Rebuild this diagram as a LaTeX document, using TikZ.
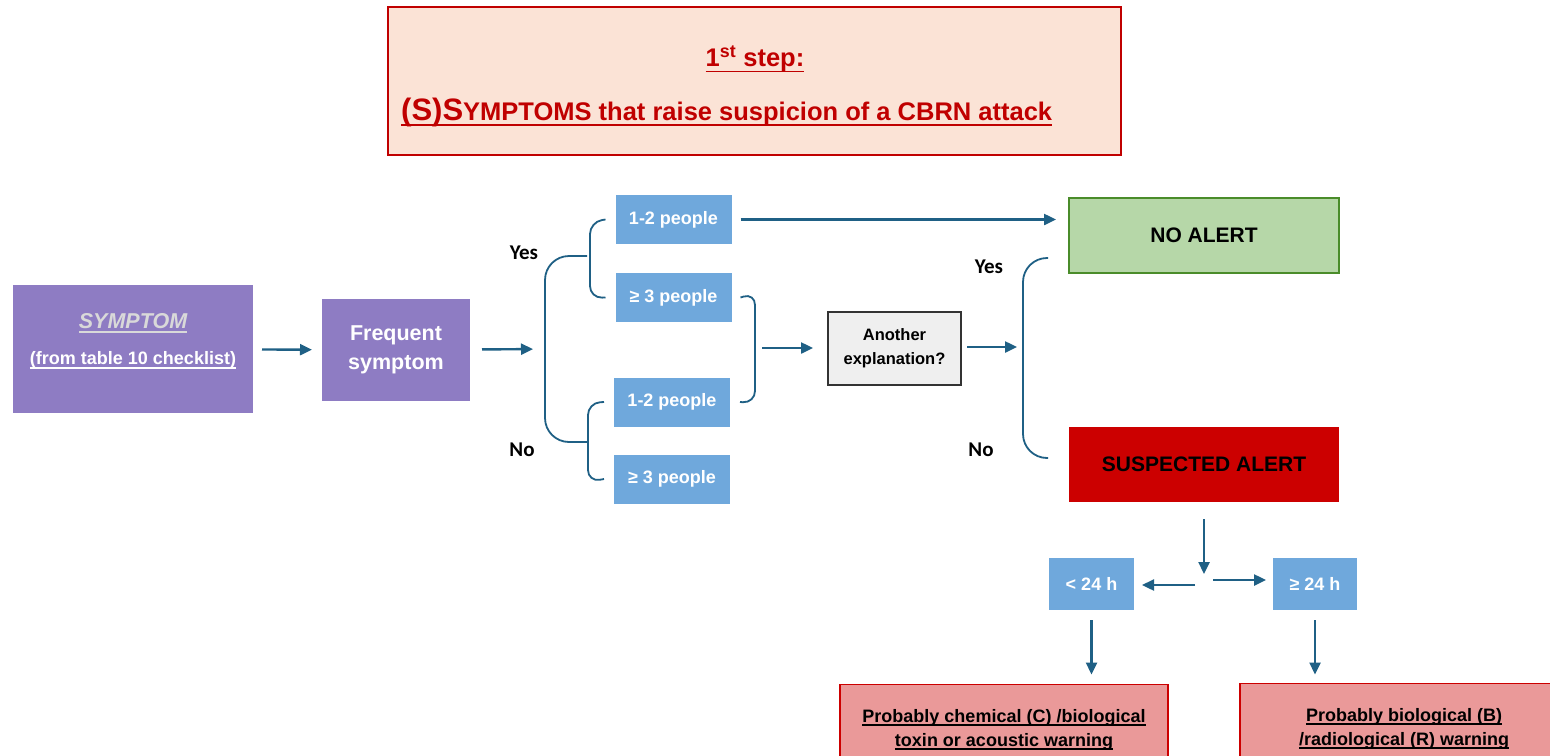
\documentclass[tikz,border=0pt]{standalone}
\usepackage{fontspec}
\setmainfont{Liberation Sans}
\newfontfamily\answerfont{Carlito}
\usepackage{xcolor}
\usepackage{tikz}
\usetikzlibrary{positioning, arrows.meta}

\newsavebox{\ulinebox}
\newcommand{\ulbar}[2][4pt]{\leavevmode\sbox{\ulinebox}{#2}%
  \rlap{\rule[-#1]{\wd\ulinebox}{1.6pt}}\usebox{\ulinebox}}

\definecolor{stepfill}{HTML}{FBE3D6}
\definecolor{stepred}{HTML}{C00000}
\definecolor{symviolet}{HTML}{8E7CC3}
\definecolor{symgray}{HTML}{D9D9D9}
\definecolor{groupblue}{HTML}{6FA8DC}
\definecolor{flowteal}{HTML}{1F6085}
\definecolor{okfill}{HTML}{B6D7A8}
\definecolor{okline}{HTML}{4A8C2A}
\definecolor{alertred}{HTML}{CC0000}
\definecolor{warnfill}{HTML}{EA9999}
\definecolor{askfill}{HTML}{EFEFEF}

\begin{document}
\begin{tikzpicture}[x=1pt, y=1pt,
    flow/.style={-{Triangle[length=12pt, width=11pt]}, line width=2.4pt, flowteal},
    brace/.style={line width=1.8pt, flowteal, rounded corners=#1},
    brace/.default=12pt,
    violetbox/.style={fill=symviolet, inner sep=0pt, outer sep=0pt, align=center,
      text=white, font={\fontsize{21.5}{29}\selectfont\bfseries}},
    groupbox/.style={fill=groupblue, inner sep=0pt, outer sep=0pt, align=center,
      text=white, font={\fontsize{18}{22}\selectfont\bfseries}},
    alertbox/.style={inner sep=0pt, outer sep=0pt, minimum width=270, minimum height=75,
      line width=1.5pt, font={\fontsize{21}{25}\selectfont\bfseries}},
    warnbox/.style={fill=warnfill, draw=alertred, line width=1.3pt, inner sep=0pt,
      outer sep=0pt, minimum width=328, minimum height=90, align=center,
      font={\fontsize{18}{24}\selectfont\bfseries}},
    answer/.style={font={\fontsize{21}{25}\selectfont\answerfont\bfseries}}]

  \useasboundingbox (0,0) rectangle (1550,-755);
  \clip (0,0) rectangle (1550,-755);
  \fill[white] (0,0) rectangle (1550,-755);

  % ── 1st step banner (top) ──
  \node[fill=stepfill, draw=stepred, line width=1.3pt, inner sep=0pt,
    minimum width=733, minimum height=148] (step) at (754.5,-81) {};
  \node[text=stepred, font={\fontsize{25.5}{30}\selectfont\bfseries}]
    (stepno) at (755,-59) {\ulbar[6pt]{1\textsuperscript{st} step:}};
  \node[text=stepred, font={\fontsize{25.5}{30}\selectfont\bfseries}, anchor=west, inner sep=0pt]
    (stepname) at (401,-112)
    {\ulbar[6pt]{{\fontsize{31}{31}\selectfont(S)S}YMPTOMS that raise suspicion of a CBRN attack}};

  % ── symptom input ──
  \node[violetbox, minimum width=240, minimum height=128] (sym) at (133,-349) {};
  \node[text=symgray, font={\fontsize{21.5}{25}\selectfont\bfseries\itshape}]
    (symname) at (133,-323) {\ulbar[5pt]{SYMPTOM}};
  \node[text=white, font={\fontsize{18}{22}\selectfont\bfseries}]
    (symsrc) at (133,-360) {\ulbar[5pt]{(from table 10 checklist)}};
  \node[violetbox, minimum width=148, minimum height=102] (freq) at (396,-350)
    {Frequent\\symptom};

  % ── number of people ──
  \foreach \n/\x/\y/\t in {
    pa/673.5/-219.5/{1-2 people},
    pb/673.5/-297.5/{≥ 3 people},
    pc/672/-402/{1-2 people},
    pd/672/-479/{≥ 3 people}} {
    \node[groupbox, minimum width=116, minimum height=49] (\n) at (\x,\y) {\t};
  }

  % ── braces round the groups ──
  \coordinate (ynmid) at (545,-349);
  \draw[brace=24pt] (587,-256) -- (545,-256) -- (545,-442) -- (587,-442);
  \draw[brace] ([xshift=-10pt]pa.west) -- (590,-222) -- (590,-298) -- ([xshift=-10pt]pb.west);
  \draw[brace] ([xshift=-10pt]pc.west) -- (588,-403) -- (588,-482) -- ([xshift=-10pt]pd.west);
  \coordinate (manymid) at (755,-348);
  \draw[brace] ([xshift=9pt]pb.east) -- (755,-293) -- (755,-403) -- ([xshift=10pt]pc.east);

  \node[answer] (yesa) at (524,-253) {Yes};
  \node[answer] (noa) at (522,-450) {No};

  % ── explanation check ──
  \node[fill=askfill, draw=black!80, line width=1.2pt, inner sep=0pt, outer sep=0pt,
    minimum width=133, minimum height=73, align=center,
    font={\fontsize{16.5}{24}\selectfont\bfseries}] (ask) at (894.5,-348.5)
    {Another\\explanation?};

  % ── outcomes ──
  \node[alertbox, fill=okfill, draw=okline] (noalert) at (1204,-235.5) {NO ALERT};
  \node[alertbox, fill=alertred] (suspect) at (1204,-464.5) {SUSPECTED ALERT};
  \coordinate (askmid) at (1023,-347);
  \draw[brace=24pt] (1048,-258) -- (1023,-258) -- (1023,-458) -- (1048,-458);
  \node[answer] (yesb) at (989,-267) {Yes};
  \node[answer] (nob) at (981,-450) {No};

  % ── onset time ──
  \node[groupbox, minimum width=85, minimum height=52] (early) at (1091.5,-584) {< 24 h};
  \node[groupbox, minimum width=84, minimum height=52] (late) at (1315,-584) {≥ 24 h};
  \coordinate (forktop) at (1204,-574);
  \coordinate (forkleft) at (1195,-585);
  \coordinate (forkright) at (1213,-580);

  \node[warnbox] (chem) at (1004,-729.5)
    {\ulbar{Probably chemical (C) /biological}\\\ulbar{toxin or acoustic warning}};
  \node[warnbox] (bio) at (1404,-728.5)
    {\ulbar{Probably biological (B)}\\\ulbar{/radiological (R) warning}};

  % ── arrows ──
  \draw[flow, shorten <=9pt, shorten >=10pt] (sym) -- (freq);
  \draw[flow, shorten <=12pt, shorten >=12pt] (freq) -- (ynmid);
  \draw[flow, shorten <=9pt, shorten >=13pt] (pa.east) -- (pa.east -| noalert.west);
  \draw[flow, shorten <=7pt, shorten >=15pt] (manymid) -- (manymid -| ask.west);
  \draw[flow, shorten <=6pt, shorten >=6pt] (askmid -| ask.east) -- (askmid);
  \draw[flow, shorten <=17pt] (suspect.south) -- (forktop);
  \draw[flow, shorten >=8pt] (forkleft) -- (forkleft -| early.east);
  \draw[flow, shorten >=7pt] (forkright) -- (forkright -| late.west);
  \draw[flow, shorten <=10pt, shorten >=10pt] (early.south) -- (early.south |- chem.north);
  \draw[flow, shorten <=10pt, shorten >=9pt] (late.south) -- (late.south |- bio.north);
\end{tikzpicture}
\end{document}
